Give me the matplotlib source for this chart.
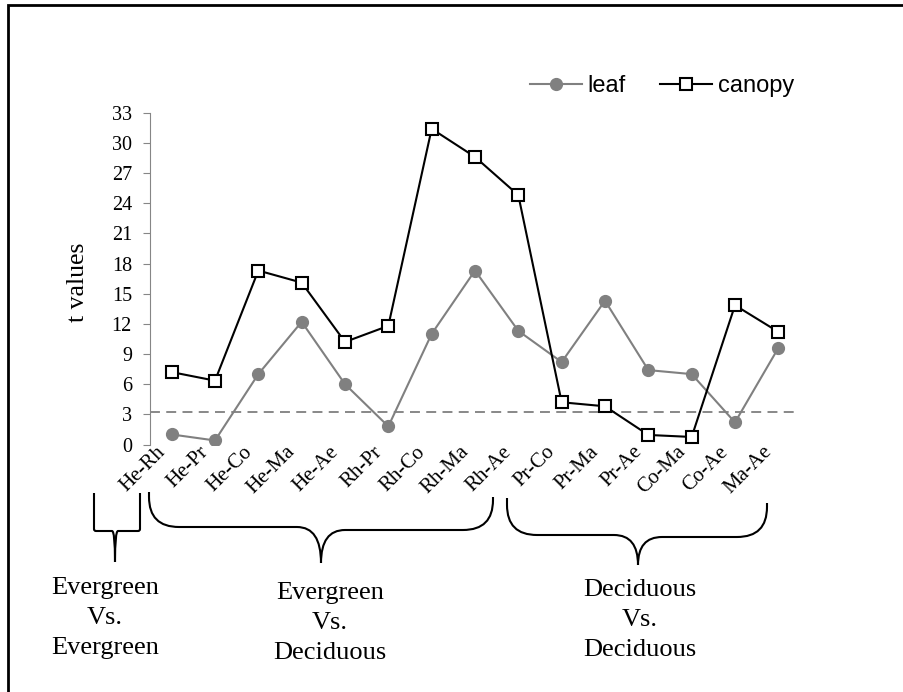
import matplotlib.pyplot as plt
import matplotlib.patches as patches
from matplotlib.path import Path
import matplotlib.transforms as mtransforms
import numpy as np

pairs = ['He-Rh', 'He-Pr', 'He-Co', 'He-Ma', 'He-Ae', 'Rh-Pr', 'Rh-Co', 'Rh-Ma',
         'Rh-Ae', 'Pr-Co', 'Pr-Ma', 'Pr-Ae', 'Co-Ma', 'Co-Ae', 'Ma-Ae']
leaf = [1.0, 0.4, 7.0, 12.2, 6.0, 1.8, 11.0, 17.3, 11.3, 8.2, 14.3, 7.4, 7.0, 2.2, 9.6]
canopy = [7.2, 6.35, 17.3, 16.1, 10.2, 11.8, 31.4, 28.6, 24.8, 4.2, 3.8, 0.95, 0.75, 13.85, 11.2]
t_crit = 3.2
yticks = list(range(0, 34, 3))

group_names = [['Evergreen', 'Vs.', 'Evergreen'],
               ['Evergreen', 'Vs.', 'Deciduous'],
               ['Deciduous', 'Vs.', 'Deciduous']]

W, H = 904, 692
serif = 'Liberation Serif'
sans = 'Liberation Sans'

fig = plt.figure(figsize=(W / 100, H / 100), dpi=100)
ax = fig.add_axes([150 / W, 1 - 444.5 / H, 650 / W, (444.5 - 112.7) / H])

x = np.arange(len(pairs))
ax.axhline(t_crit, color='#7f7f7f', lw=1.3, ls=(0, (5.5, 3.5)), zorder=1)
ax.plot(x, leaf, color='#808080', lw=1.5, marker='o', ms=8.5, label='leaf', zorder=2)
ax.plot(x, canopy, color='black', lw=1.5, marker='s', ms=8, mfc='white', mew=1.5,
        label='canopy', zorder=3)

ax.set_xlim(-0.5, len(pairs) - 0.5)
ax.set_ylim(0, 33)
ax.set_yticks(yticks)
ax.set_yticklabels([str(v) for v in yticks], family=serif, fontsize=14.5)
ax.set_xticks([])

# slanted category labels, ending a little left of each category
lab_tr = mtransforms.blended_transform_factory(ax.transData, ax.transAxes) + \
    mtransforms.ScaledTranslation(-0.16, 0.02, fig.dpi_scale_trans)
for xi, name in zip(x, pairs):
    ax.text(xi, 0, name, transform=lab_tr, family=serif, fontsize=15, rotation=45,
            ha='right', va='top', rotation_mode='anchor')

for s in ['top', 'right', 'bottom']:
    ax.spines[s].set_visible(False)
ax.spines['left'].set_color('#868686')
ax.tick_params(axis='y', direction='out', length=5, color='#868686', pad=8)

fig.text(78 / W, 1 - 282 / H, 't values', rotation=90, ha='center', va='center',
         family=serif, fontsize=18.5)

ax.legend(loc='center left', bbox_to_anchor=(530 / W, 1 - 86 / H),
          bbox_transform=fig.transFigure, ncol=2, frameon=False, borderpad=0,
          borderaxespad=0, handlelength=2.2, handletextpad=0.25, columnspacing=1.45,
          prop={'family': sans, 'size': 17})

# outer frame
fig.patches.append(patches.Rectangle((8 / W, -0.1), 1.2, 1 - 5 / H + 0.1,
                                     transform=fig.transFigure, fill=False,
                                     lw=2, ec='black'))


def px(p):
    return (p[0] / W, 1 - p[1] / H)


def brace(xl, xr, xt, yl, yr, hl, hr, ytip, r, rt):
    left = [(xt, ytip), (xt, hl), (xt - rt, hl), (xl + r, hl),
            (xl, hl), (xl, hl - r), (xl, yl)]
    right = [(xt, ytip), (xt, hr), (xt + rt, hr), (xr - r, hr),
             (xr, hr), (xr, hr - r), (xr, yr)]
    codes = [Path.MOVETO, Path.CURVE3, Path.CURVE3, Path.LINETO,
             Path.CURVE3, Path.CURVE3, Path.LINETO]
    for half in (left, right):
        pth = Path([px(p) for p in half], codes)
        fig.patches.append(patches.PathPatch(pth, fill=False, lw=1.5, ec='black',
                                             transform=fig.transFigure))


brace(94, 140, 115, 493, 493, 531, 531, 562, 2, 3)
brace(149, 493, 321, 492, 497, 527, 530, 563, 30, 24)
brace(507, 767, 638, 498, 503, 535, 537, 565, 30, 24)

group_pos = [(105, 588), (330, 593), (640, 590)]
for (cx, cy), lines in zip(group_pos, group_names):
    for i, line in enumerate(lines):
        fig.text(cx / W, 1 - (cy + 30 * i) / H, line, ha='center', va='center',
                 family=serif, fontsize=19)

fig.savefig('out.png', dpi=100)
